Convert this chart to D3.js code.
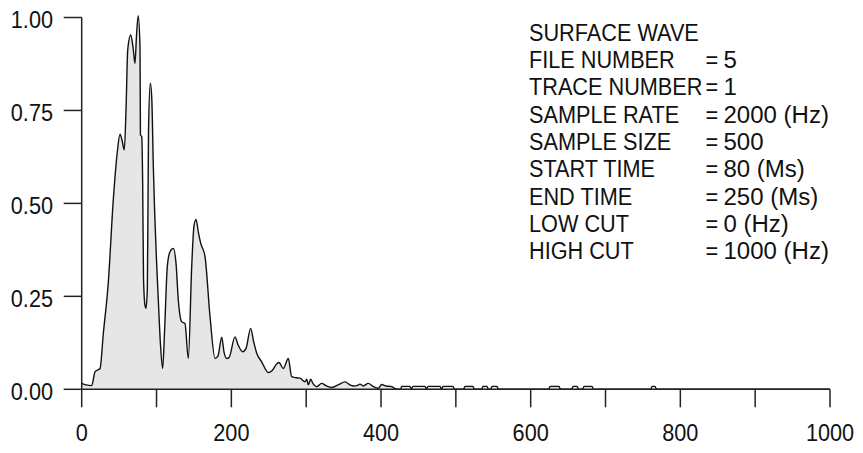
<!DOCTYPE html>
<html>
<head>
<meta charset="utf-8">
<script src="https://cdn.jsdelivr.net/npm/d3@7"></script>
<style>
  html, body { margin: 0; padding: 0; background: #fff; }
  svg { display: block; }
  text { font-family: "Liberation Sans", Arial, Helvetica, sans-serif; font-size: 24.5px; fill: #111; }
</style>
</head>
<body>
<svg id="chart" width="863" height="453"></svg>
<script>
// Frequency (Hz) of each read point
const freq = [
  0, 5.7, 13.4, 17.8, 24.5, 28.9, 35.5, 42.2, 47.6, 51.2, 53.9, 56.9, 59.2, 61.5, 65.5, 68.6, 71.2, 73.2, 75.5, 77.9,
  78.5, 80.2, 81.5, 82.6, 84.6, 85.9, 87.7, 88.6, 89.3, 91.7, 93.7, 95.7, 102.4, 105.3, 108.2, 110.6, 114.4, 118, 122.4, 126,
  129.1, 133.6, 138, 142.5, 147, 150.1, 152.7, 156.1, 159, 164.8, 171.5, 178.2, 182.2, 187.1, 190.2, 193.8, 196.8, 204.9, 208.9, 215.2,
  219.6, 225.8, 229.6, 233.9, 240.5, 249.4, 254.3, 260.6, 263.7, 269.4, 276.1, 280.6, 286.4, 291.7, 298.4, 300.7, 302.8, 306, 309.1, 314,
  320.7, 326.5, 334.1, 343.8, 351.9, 358.5, 363, 367.9, 371.9, 376.3, 383, 389.3, 396.4, 400.9, 406.7, 414.3, 418.7,
  426, 427.6, 438.7, 440.5, 442.7, 458.8, 460.8, 462.8, 478.8, 480.8, 482.8, 496.2, 498,
  510.5, 512.2, 522.9, 524.6, 534.6, 536.3, 541.6, 543.3, 546.6, 548.3, 555, 556.7,
  624.2, 625.9, 637.9, 639.6, 654.9, 656.6, 662, 663.7, 669.6, 671.3, 682, 683.7,
  760.5, 762.2, 766.2, 767.9, 1000
];
// Normalised amplitude at each point
const amp = [
  0.016, 0.012, 0.010, 0.047, 0.056, 0.150, 0.286, 0.509, 0.639, 0.686, 0.670, 0.644, 0.750, 0.913, 0.953, 0.920, 0.877, 0.950, 1.005, 0.921,
  0.684, 0.680, 0.550, 0.300, 0.225, 0.218, 0.270, 0.500, 0.697, 0.823, 0.780, 0.600, 0.240, 0.120, 0.056, 0.150, 0.330, 0.370, 0.379, 0.340,
  0.240, 0.182, 0.177, 0.083, 0.330, 0.440, 0.457, 0.420, 0.393, 0.357, 0.195, 0.083, 0.090, 0.140, 0.100, 0.083, 0.085, 0.141, 0.120, 0.101,
  0.110, 0.164, 0.130, 0.097, 0.074, 0.045, 0.050, 0.068, 0.072, 0.056, 0.083, 0.034, 0.031, 0.030, 0.020, 0.027, 0.012, 0.027, 0.015, 0.007,
  0.016, 0.010, 0.005, 0.013, 0.020, 0.012, 0.009, 0.010, 0.014, 0.009, 0.016, 0.008, 0.003, 0.013, 0.009, 0.007, 0.002,
  0.000, 0.008, 0.008, 0.000, 0.008, 0.008, 0.000, 0.008, 0.008, 0.000, 0.008, 0.008, 0.000,
  0.000, 0.008, 0.008, 0.000, 0.000, 0.008, 0.008, 0.000, 0.000, 0.008, 0.008, 0.000,
  0.000, 0.008, 0.008, 0.000, 0.000, 0.008, 0.008, 0.000, 0.000, 0.008, 0.008, 0.000,
  0.000, 0.008, 0.008, 0.000, 0.000
];
const xTicks = [0, 100, 200, 300, 400, 500, 600, 700, 800, 900, 1000];
const xTickLabels = ["0", "", "200", "", "400", "", "600", "", "800", "", "1000"];
const yTicks = [0, 0.25, 0.5, 0.75, 1.0];
const yTickLabels = ["0.00", "0.25", "0.50", "0.75", "1.00"];
const infoLabels = ["SURFACE WAVE", "FILE NUMBER", "TRACE NUMBER", "SAMPLE RATE", "SAMPLE SIZE", "START TIME", "END TIME", "LOW CUT", "HIGH CUT"];
const infoValues = ["", "5", "1", "2000 (Hz)", "500", "80 (Ms)", "250 (Ms)", "0 (Hz)", "1000 (Hz)"];

const svg = d3.select("#chart");
const x = d3.scaleLinear().domain([0, 1000]).range([81.7, 830]);
const y = d3.scaleLinear().domain([0, 1]).range([389.3, 17.5]);
const SX = 0.885;
const data = freq.map((f, i) => ({ f, a: amp[i] }));

// area + line
const area = d3.area().x(d => x(d.f)).y0(y(0)).y1(d => y(d.a)).curve(d3.curveMonotoneX);
const line = d3.line().x(d => x(d.f)).y(d => y(d.a)).curve(d3.curveMonotoneX);
svg.append("path").datum(data).attr("d", area).attr("fill", "#e6e6e6");
svg.append("path").datum(data).attr("d", line).attr("fill", "none").attr("stroke", "#111").attr("stroke-width", 1.4).attr("stroke-linejoin", "round");

// axes
const axisColor = "#222";
svg.append("line").attr("x1", x(0)).attr("x2", x(0)).attr("y1", y(1)).attr("y2", y(0)).attr("stroke", axisColor).attr("stroke-width", 1.5);
svg.append("line").attr("x1", x(0)).attr("x2", x(1000)).attr("y1", y(0)).attr("y2", y(0)).attr("stroke", axisColor).attr("stroke-width", 1.5);

svg.selectAll(".xt").data(xTicks).enter().append("line")
  .attr("x1", d => x(d)).attr("x2", d => x(d)).attr("y1", y(0)).attr("y2", y(0) + 18)
  .attr("stroke", axisColor).attr("stroke-width", 1.5);
svg.selectAll(".xl").data(xTicks).enter().append("text")
  .attr("transform", d => `translate(${x(d)},${y(0) + 51.4}) scale(${SX},1)`)
  .attr("text-anchor", "middle")
  .text((d, i) => xTickLabels[i]);

svg.selectAll(".yt").data(yTicks).enter().append("line")
  .attr("x1", x(0) - 18).attr("x2", x(0)).attr("y1", d => y(d)).attr("y2", d => y(d))
  .attr("stroke", axisColor).attr("stroke-width", 1.5);
svg.selectAll(".yl").data(yTicks).enter().append("text")
  .attr("transform", d => `translate(53,${y(d) + 10.8}) scale(${SX},1)`)
  .attr("text-anchor", "end")
  .text((d, i) => yTickLabels[i]);

// info block
infoLabels.forEach((lab, i) => {
  const by = 40.7 + i * 27.3;
  svg.append("text").attr("transform", `translate(529,${by}) scale(${SX},1)`).text(lab);
  if (infoValues[i]) {
    svg.append("text").attr("transform", `translate(705.5,${by}) scale(${SX},1)`).text("=");
    svg.append("text").attr("transform", `translate(723.5,${by}) scale(0.98,1)`).text(infoValues[i]);
  }
});
</script>
</body>
</html>
